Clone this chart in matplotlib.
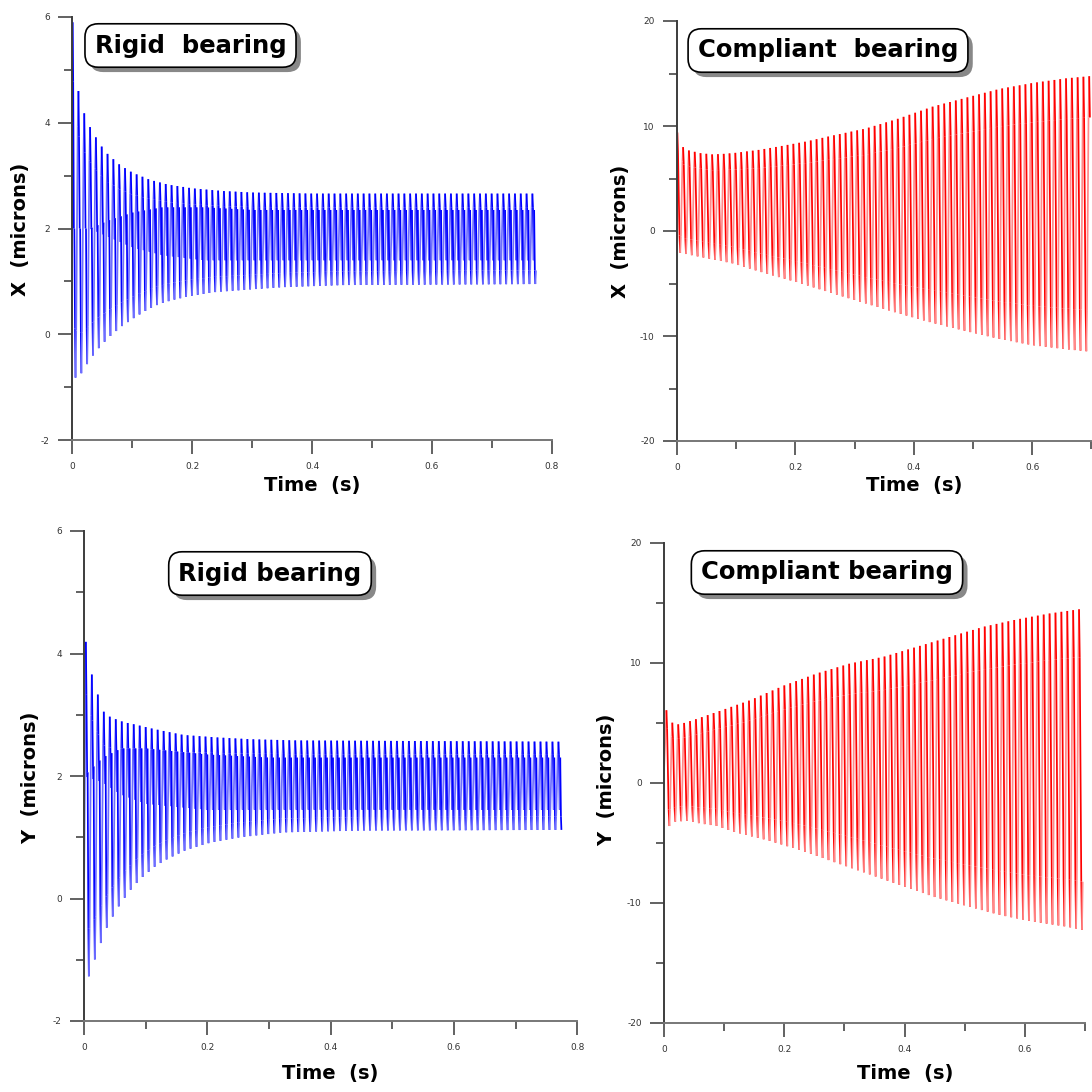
import matplotlib

matplotlib.use("Agg")
import matplotlib.patheffects as pe
import matplotlib.pyplot as plt
import numpy as np
from matplotlib.collections import LineCollection

# Oscillation period (s)
PERIOD_RIGID = 0.0097
PERIOD_COMPLIANT = 0.0098

# Rigid bearing, X response
RX_END = 0.775
RX_UP_T = [0.001, 0.011, 0.020, 0.030, 0.040, 0.050, 0.060, 0.080, 0.100, 0.130, 0.160, 0.200, 0.250, 0.300, 0.400, 0.775]
RX_UP = [5.90, 4.56, 4.19, 3.92, 3.72, 3.54, 3.40, 3.20, 3.06, 2.92, 2.83, 2.76, 2.71, 2.68, 2.66, 2.66]
RX_LO_T = [0.008, 0.018, 0.027, 0.037, 0.047, 0.057, 0.067, 0.077, 0.086, 0.096, 0.106, 0.125, 0.145, 0.165, 0.195, 0.240, 0.300, 0.350, 0.450, 0.775]
RX_LO = [-0.82, -0.71, -0.53, -0.37, -0.23, -0.11, 0.00, 0.09, 0.18, 0.25, 0.33, 0.46, 0.57, 0.64, 0.72, 0.80, 0.85, 0.89, 0.93, 0.95]
RX_IN_T = [0.0, 0.03, 0.06, 0.10, 0.15, 0.22, 0.30, 0.775]
RX_IN_HI = [2.0, 2.0, 2.15, 2.30, 2.40, 2.40, 2.35, 2.35]
RX_IN_LO = [2.0, 2.0, 1.85, 1.65, 1.50, 1.40, 1.40, 1.40]

# Compliant bearing, X response
CX_END = 0.700
CX_UP_T = [0.0005, 0.0115, 0.020, 0.040, 0.060, 0.080, 0.100, 0.139, 0.178, 0.218, 0.263, 0.319, 0.375, 0.431, 0.488, 0.544, 0.600, 0.656, 0.700]
CX_UP = [9.38, 7.82, 7.67, 7.41, 7.29, 7.35, 7.45, 7.73, 8.11, 8.52, 9.09, 9.76, 10.72, 11.83, 12.69, 13.52, 14.09, 14.53, 14.76]
CX_LO_T = [0.0045, 0.038, 0.094, 0.150, 0.206, 0.263, 0.319, 0.375, 0.431, 0.488, 0.544, 0.600, 0.656, 0.700]
CX_LO = [-2.07, -2.45, -3.08, -4.04, -4.93, -5.94, -6.90, -7.85, -8.74, -9.53, -10.27, -10.87, -11.25, -11.50]

# Rigid bearing, Y response
RY_END = 0.775
RY_UP_T = [0.003, 0.013, 0.023, 0.032, 0.044, 0.054, 0.064, 0.083, 0.112, 0.161, 0.215, 0.270, 0.345, 0.775]
RY_UP = [4.19, 3.64, 3.31, 3.05, 2.95, 2.92, 2.88, 2.84, 2.77, 2.67, 2.63, 2.60, 2.58, 2.56]
RY_LO_T = [0.0086, 0.019, 0.029, 0.038, 0.048, 0.058, 0.068, 0.077, 0.087, 0.097, 0.116, 0.136, 0.165, 0.204, 0.253, 0.323, 0.450, 0.775]
RY_LO = [-1.27, -0.95, -0.68, -0.45, -0.27, -0.10, 0.04, 0.16, 0.27, 0.37, 0.53, 0.65, 0.79, 0.91, 1.00, 1.08, 1.11, 1.12]
RY_IN_T = [0.0, 0.03, 0.06, 0.10, 0.20, 0.30, 0.775]
RY_IN_HI = [2.0, 2.30, 2.45, 2.45, 2.35, 2.30, 2.30]
RY_IN_LO = [2.0, 1.90, 1.70, 1.55, 1.45, 1.45, 1.45]

# Compliant bearing, Y response
CY_END = 0.697
CY_UP_T = [0.004, 0.014, 0.024, 0.035, 0.054, 0.088, 0.143, 0.198, 0.254, 0.309, 0.365, 0.420, 0.475, 0.531, 0.586, 0.641, 0.697]
CY_UP = [6.04, 4.98, 4.86, 5.00, 5.31, 5.90, 6.87, 8.07, 9.10, 9.93, 10.49, 11.32, 12.15, 12.99, 13.60, 14.10, 14.50]
CY_LO_T = [0.009, 0.018, 0.038, 0.060, 0.088, 0.115, 0.143, 0.171, 0.226, 0.281, 0.337, 0.392, 0.448, 0.503, 0.559, 0.614, 0.670, 0.697]
CY_LO = [-3.61, -3.25, -3.17, -3.39, -3.61, -4.08, -4.44, -4.78, -5.61, -6.58, -7.55, -8.53, -9.50, -10.27, -11.03, -11.58, -12.00, -12.28]

# Axis ticks
RIGID_YTICKS = [-2, 0, 2, 4, 6]
RIGID_YLABELS = ["-2", "0", "2", "4", "6"]
COMPLIANT_YTICKS = [-20, -10, 0, 10, 20]
COMPLIANT_YLABELS = ["-20", "-10", "0", "10", "20"]
TIME_TICKS = [0, 0.2, 0.4, 0.6, 0.8]
TIME_LABELS = ["0", "0.2", "0.4", "0.6", "0.8"]

FONT = "DejaVu Sans"
PX = 1092.0
LW = 1.25

# where in one cycle the trace sits between the envelopes (fraction of period, mix)
SHAPE_PLAIN = [
    (0.00, {"up": 1.0}),
    (0.12, {"up": 0.85, "lo": 0.15}),
    (0.38, {"up": 0.15, "lo": 0.85}),
    (0.50, {"lo": 1.0}),
    (0.62, {"up": 0.15, "lo": 0.85}),
    (0.88, {"up": 0.85, "lo": 0.15}),
]
SHAPE_CORE = [
    (0.00, {"up": 1.0}),
    (0.10, {"up": 0.85, "lo": 0.15}),
    (0.22, {"in_lo": 1.0}),
    (0.30, {"in_hi": 1.0}),
    (0.42, {"up": 0.15, "lo": 0.85}),
    (0.50, {"lo": 1.0}),
    (0.62, {"up": 0.15, "lo": 0.85}),
    (0.88, {"up": 0.85, "lo": 0.15}),
]


def fx(px):
    return px / PX


def fy(px):
    return 1 - px / PX


def build_trace(t_end, period, t_first, start, env, shape):
    # steps through each cycle, taking the levels off the envelopes
    ts, ys = [0.0], [start]
    t = t_first
    while t < t_end:
        for frac, mix in shape:
            tt = t + frac * period
            if tt > t_end:
                break
            ts.append(tt)
            ys.append(sum(w * np.interp(tt, *env[k]) for k, w in mix.items()))
        t += period
    return np.array(ts), np.array(ys)


def draw_trace(ax, t, y, dark, light):
    # falling strokes print dark, rising strokes print pale, as in the scan
    pts = np.column_stack([t, y])
    segs = np.stack([pts[:-1], pts[1:]], axis=1)
    cols = [light if dy > 0 else dark for dy in np.diff(y)]
    ax.add_collection(LineCollection(segs, colors=cols, linewidths=LW))


def style_axes(ax, xmax, ylim, yticks, ylabels, yminor):
    ax.set_xlim(0, xmax)
    ax.set_ylim(*ylim)
    ax.spines["top"].set_visible(False)
    ax.spines["right"].set_visible(False)
    ax.spines["left"].set_color("#3c3c3c")
    ax.spines["bottom"].set_color("#777777")
    for s in ("left", "bottom"):
        ax.spines[s].set_linewidth(1.4)
    xt = [t for t in TIME_TICKS if t <= xmax + 1e-9]
    ax.set_xticks(xt)
    ax.set_xticklabels(TIME_LABELS[: len(xt)])
    ax.set_xticks([t for t in (0.1, 0.3, 0.5, 0.7) if t <= xmax + 1e-9], minor=True)
    ax.set_yticks(yticks)
    ax.set_yticklabels(ylabels)
    ax.set_yticks(yminor, minor=True)
    ax.tick_params(which="major", direction="out", length=10, width=1.3,
                   colors="#555555", labelsize=6.5, labelcolor="#333333")
    ax.tick_params(which="minor", direction="out", length=5.5, width=1.3,
                   colors="#555555")
    ax.tick_params(axis="x", pad=6)
    ax.tick_params(axis="y", pad=6)
    ax.patch.set_alpha(0)


def title_box(fig, x, y, txt):
    t = fig.text(fx(x), fy(y), txt, fontsize=17.5, fontweight="bold",
                 family=FONT, ha="center", va="center",
                 bbox=dict(boxstyle="round,pad=0.4,rounding_size=0.55",
                           fc="white", ec="black", lw=1.2))
    t.get_bbox_patch().set_path_effects([
        pe.SimplePatchShadow(offset=(3.5, -3.5), shadow_rgbFace="0.45", alpha=0.85),
        pe.Normal(),
    ])


def axis_labels(fig, ylab, yx, yy, xx, xy):
    fig.text(fx(yx), fy(yy), ylab, rotation=90, fontsize=14, fontweight="bold",
             family=FONT, ha="center", va="center")
    fig.text(fx(xx), fy(xy), "Time  (s)", fontsize=14, fontweight="bold",
             family=FONT, ha="center", va="center")


fig = plt.figure(figsize=(10.92, 10.92), dpi=100)

# Top left: rigid X
ax1 = fig.add_axes([fx(72), fy(440), 480 / PX, 423 / PX])
env = {"up": (RX_UP_T, RX_UP), "lo": (RX_LO_T, RX_LO),
       "in_hi": (RX_IN_T, RX_IN_HI), "in_lo": (RX_IN_T, RX_IN_LO)}
t, y = build_trace(RX_END, PERIOD_RIGID, 0.001, 0.26, env, SHAPE_CORE)
draw_trace(ax1, t, y, "#0000ff", "#6e6eff")
style_axes(ax1, 0.8, (-2, 6), RIGID_YTICKS, RIGID_YLABELS, [-1, 1, 3, 5])
axis_labels(fig, "X  (microns)", 20.5, 229, 312, 485)
title_box(fig, 190.5, 45.5, "Rigid  bearing")

# Top right: compliant X
ax2 = fig.add_axes([fx(677), fy(441), 0.7 * 592 / PX, 420 / PX])
env = {"up": (CX_UP_T, CX_UP), "lo": (CX_LO_T, CX_LO)}
t, y = build_trace(CX_END, PERIOD_COMPLIANT, 0.0005, 0.0, env, SHAPE_PLAIN)
draw_trace(ax2, t, y, "#ff0000", "#ff8a8a")
style_axes(ax2, 0.7, (-20, 20), COMPLIANT_YTICKS, COMPLIANT_YLABELS, [-15, -5, 5, 15])
axis_labels(fig, "X  (microns)", 620.5, 231, 914, 485)
title_box(fig, 828, 50.5, "Compliant  bearing")

# Bottom left: rigid Y
ax3 = fig.add_axes([fx(84), fy(1021), 0.8 * 616.7 / PX, 490 / PX])
env = {"up": (RY_UP_T, RY_UP), "lo": (RY_LO_T, RY_LO),
       "in_hi": (RY_IN_T, RY_IN_HI), "in_lo": (RY_IN_T, RY_IN_LO)}
t, y = build_trace(RY_END, PERIOD_RIGID, 0.003, 0.0, env, SHAPE_CORE)
draw_trace(ax3, t, y, "#0000ff", "#6e6eff")
style_axes(ax3, 0.8, (-2, 6), RIGID_YTICKS, RIGID_YLABELS, [-1, 1, 3, 5])
axis_labels(fig, "Y  (microns)", 31, 778, 330, 1073)
title_box(fig, 270, 573.5, "Rigid bearing")

# Bottom right: compliant Y
ax4 = fig.add_axes([fx(664), fy(1022.7), 0.7 * 601.5 / PX, 480 / PX])
env = {"up": (CY_UP_T, CY_UP), "lo": (CY_LO_T, CY_LO)}
t, y = build_trace(CY_END, PERIOD_COMPLIANT, 0.004, 1.0, env, SHAPE_PLAIN)
draw_trace(ax4, t, y, "#ff0000", "#ff8a8a")
style_axes(ax4, 0.7, (-20, 20), COMPLIANT_YTICKS, COMPLIANT_YLABELS, [-15, -5, 5, 15])
axis_labels(fig, "Y  (microns)", 607, 780, 905, 1074)
title_box(fig, 827, 572.5, "Compliant bearing")

fig.savefig("out.png", dpi=100)
